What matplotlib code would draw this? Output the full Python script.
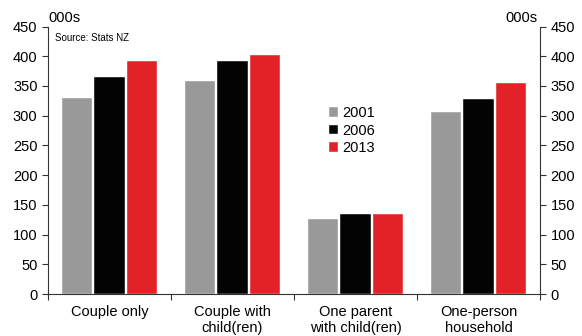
import matplotlib
matplotlib.use("Agg")
import matplotlib.pyplot as plt
import numpy as np

plt.rcParams['font.family'] = ['Liberation Sans', 'DejaVu Sans']

categories = ["Couple only", "Couple with\nchild(ren)", "One parent\nwith child(ren)", "One-person\nhousehold"]
years = ["2001", "2006", "2013"]
v2001 = [330, 358, 126, 307]
v2006 = [365, 392, 134, 328]
v2013 = [392, 402, 135, 355]
colors = ["#999999", "#030303", "#E32227"]
yticks = [0, 50, 100, 150, 200, 250, 300, 350, 400, 450]

fig = plt.figure(figsize=(5.82, 3.36), dpi=100)
ax = fig.add_axes([48/582, 42/336, 492/582, 267.5/336])

x = np.arange(len(categories))
w = 0.244
step = 0.262
for i, (vals, c, lab) in enumerate(zip([v2001, v2006, v2013], colors, years)):
    ax.bar(x + (i - 1) * step, vals, width=w, color=c, label=lab, edgecolor='white', linewidth=0.3)

ax.set_xlim(-0.5, len(categories) - 0.5)
ax.set_ylim(0, 450)
ax.set_yticks(yticks)
ax.tick_params(axis='y', labelsize=10.5, length=4, direction='out', color='#333333', width=0.8)
ax.set_xticks(x)
ax.set_xticklabels(categories, fontsize=10.5)
ax.tick_params(axis='x', length=0, pad=8)
ax.set_xticks(np.arange(len(categories) + 1) - 0.5, minor=True)
ax.tick_params(axis='x', which='minor', length=4, color='#333333', width=0.8)
for s in ['top', 'right']:
    ax.spines[s].set_visible(False)
for s in ['left', 'bottom']:
    ax.spines[s].set_color('#333333')
    ax.spines[s].set_linewidth(0.8)

ax2 = ax.twinx()
ax2.set_ylim(0, 450)
ax2.set_yticks(yticks)
ax2.tick_params(axis='y', labelsize=10.5, length=4, color='#333333', width=0.8)
for s in ['top', 'left', 'bottom']:
    ax2.spines[s].set_visible(False)
ax2.spines['right'].set_color('#333333')
ax2.spines['right'].set_linewidth(0.8)

fig.text(48/582, 1 - 18/336, "000s", fontsize=10.5, va='center', ha='left')
fig.text(537/582, 1 - 18/336, "000s", fontsize=10.5, va='center', ha='right')
fig.text(55/582, 1 - 38/336, "Source: Stats NZ", fontsize=7, va='center', ha='left')

leg = ax.legend(loc='upper left', bbox_to_anchor=(329/582, 1 - 106/336), bbox_transform=fig.transFigure,
                frameon=False, fontsize=10.5, handlelength=0.65, handleheight=0.65, handletextpad=0.25,
                labelspacing=0.25, borderaxespad=0, borderpad=0)

fig.savefig("out.png", dpi=100)
